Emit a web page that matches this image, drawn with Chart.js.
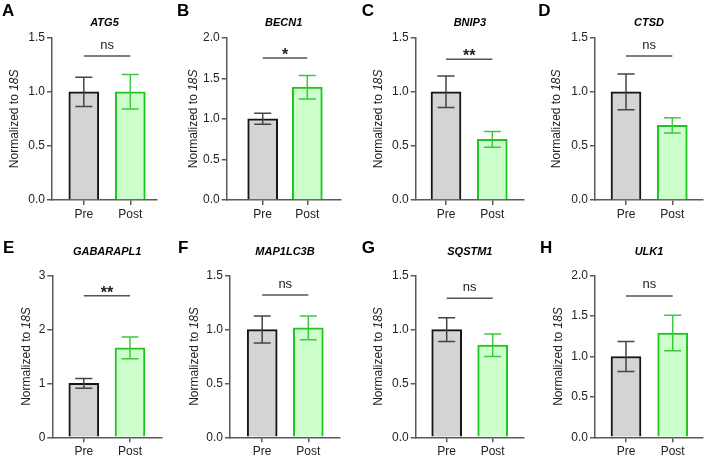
<!DOCTYPE html>
<html>
<head>
<meta charset="utf-8">
<script src="https://cdn.jsdelivr.net/npm/chart.js@4.4.1/dist/chart.umd.min.js"></script>
<style>
    html, body { margin: 0; padding: 0; background: #fff; overflow: hidden; }
    #fig { position: relative; width: 705px; height: 458px; }
    #fig canvas { position: absolute; }
</style>
</head>
<body>
<div id="fig"></div>
<script>
// Data
const categories = ['Pre', 'Post'];
const panelLetters = ['A', 'B', 'C', 'D', 'E', 'F', 'G', 'H'];
const genes = ['ATG5', 'BECN1', 'BNIP3', 'CTSD', 'GABARAPL1', 'MAP1LC3B', 'SQSTM1', 'ULK1'];
const preMean = [1.0, 1.0, 1.0, 1.0, 1.0, 1.0, 1.0, 1.0];
const preSem = [0.135, 0.068, 0.145, 0.165, 0.09, 0.125, 0.11, 0.185];
const postMean = [1.0, 1.39, 0.56, 0.69, 1.66, 1.015, 0.855, 1.29];
const postSem = [0.16, 0.145, 0.073, 0.07, 0.2, 0.11, 0.105, 0.22];
const yMax = [1.5, 2.0, 1.5, 1.5, 3, 1.5, 1.5, 2.0];
const yStep = [0.5, 0.5, 0.5, 0.5, 1, 0.5, 0.5, 0.5];
const sigLevel = [1.33, 1.75, 1.30, 1.33, 2.63, 1.32, 1.29, 1.75];
const sigLabel = ['ns', '*', '**', 'ns', '**', 'ns', 'ns', 'ns'];

// Layout (page pixels): plot area, bar centres, letter and axis title spots
const colLeft = [0, 175, 350, 525];
const colWidth = [175, 175, 175, 180];
const rowTop = [0, 229];
const CANVAS_H = 229;
const Y_AXIS_W = 32;
const X_AXIS_H = 18;
const panels = [
    { ax: 52,    aw: 105,   cx0: 83.8,  cx1: 130.3, top: 37.7,  bottom: 200,   letterX: 2,     yTitleOff: 37 },
    { ax: 226.7, aw: 114,   cx0: 262.7, cx1: 307.3, top: 37.7,  bottom: 200,   letterX: 177,   yTitleOff: 33 },
    { ax: 415.7, aw: 108.3, cx0: 446,   cx1: 492.3, top: 37.7,  bottom: 200,   letterX: 361.7, yTitleOff: 37.4 },
    { ax: 595,   aw: 108,   cx0: 626,   cx1: 672.3, top: 37.7,  bottom: 200,   letterX: 538.3, yTitleOff: 38.3 },
    { ax: 52.3,  aw: 109.7, cx0: 83.8,  cx1: 130,   top: 275.7, bottom: 437.3, letterX: 3,     yTitleOff: 25.6 },
    { ax: 230,   aw: 110,   cx0: 262.2, cx1: 308.3, top: 275.7, bottom: 437.3, letterX: 178,   yTitleOff: 35 },
    { ax: 415.7, aw: 108.3, cx0: 446.7, cx1: 492.7, top: 275.7, bottom: 437.3, letterX: 361.7, yTitleOff: 37.4 },
    { ax: 595,   aw: 108,   cx0: 626,   cx1: 672.7, top: 275.7, bottom: 437.3, letterX: 540,   yTitleOff: 36.7 }
];

const FONT = "Arial, 'Liberation Sans', Helvetica, sans-serif";
const axisColor = '#5a5a5a';
const preFill = '#d4d4d4', preBorder = '#151515', preErr = '#444444';
const postFill = '#ccffcc', postBorder = '#1fc41f', postErr = '#3dc93d';

Chart.defaults.font.family = FONT;
Chart.defaults.color = '#333';

// Error bars, significance bracket and panel texts
const annotate = {
    id: 'annotate',
    afterDatasetsDraw(chart, args, opts) {
        const { ctx, scales: { x, y }, chartArea } = chart;
        const i = opts.index;
        const row = i < 4 ? 0 : 1;
        const p = panels[i];
        const left = colLeft[i % 4];
        const top = rowTop[row];

        // error bars
        const means = [preMean[i], postMean[i]];
        const sems = [preSem[i], postSem[i]];
        const cols = [preErr, postErr];
        ctx.save();
        ctx.lineWidth = 1.5;
        for (let k = 0; k < 2; k++) {
            const cx = x.getPixelForValue(k);
            const yHi = y.getPixelForValue(means[k] + sems[k]);
            const yLo = y.getPixelForValue(means[k] - sems[k]);
            ctx.strokeStyle = cols[k];
            ctx.beginPath();
            ctx.moveTo(cx, yHi); ctx.lineTo(cx, yLo);
            ctx.moveTo(cx - 8.5, yHi); ctx.lineTo(cx + 8.5, yHi);
            ctx.moveTo(cx - 8.5, yLo); ctx.lineTo(cx + 8.5, yLo);
            ctx.stroke();
        }

        // significance line + label
        const sy = y.getPixelForValue(sigLevel[i]);
        const sx0 = x.getPixelForValue(0), sx1 = x.getPixelForValue(1);
        ctx.strokeStyle = '#555';
        ctx.beginPath();
        ctx.moveTo(sx0, sy); ctx.lineTo(sx1, sy);
        ctx.stroke();
        ctx.fillStyle = '#222';
        ctx.textAlign = 'center';
        ctx.textBaseline = 'alphabetic';
        if (sigLabel[i] === 'ns') {
            ctx.font = '13px ' + FONT;
            ctx.fillText('ns', (sx0 + sx1) / 2, sy - 7.5);
        } else {
            ctx.font = 'bold 16px ' + FONT;
            ctx.fillText(sigLabel[i], (sx0 + sx1) / 2, sy + 2);
        }

        // gene title
        const midX = (chartArea.left + chartArea.right) / 2;
        ctx.fillStyle = '#000';
        ctx.font = 'italic bold 11px ' + FONT;
        ctx.fillText(genes[i], midX, row === 0 ? 26 : 254.7 - top);

        // panel letter
        ctx.textAlign = 'left';
        ctx.font = 'bold 17px ' + FONT;
        ctx.fillText(panelLetters[i], p.letterX - left, row === 0 ? 15.5 : 253 - top);

        // y-axis title with italic 18S
        const tx = chartArea.left - p.yTitleOff;
        const ty = (chartArea.top + chartArea.bottom) / 2;
        const partA = 'Normalized to ';
        const partB = '18S';
        ctx.translate(tx, ty);
        ctx.rotate(-Math.PI / 2);
        ctx.textBaseline = 'middle';
        ctx.fillStyle = '#222';
        ctx.font = '12px ' + FONT;
        const wA = ctx.measureText(partA).width;
        ctx.font = 'italic 12px ' + FONT;
        const wB = ctx.measureText(partB).width;
        const start = -(wA + wB) / 2;
        ctx.font = '12px ' + FONT;
        ctx.fillText(partA, start, 0);
        ctx.font = 'italic 12px ' + FONT;
        ctx.fillText(partB, start + wA, 0);
        ctx.restore();
    }
};

const fig = document.getElementById('fig');

genes.forEach((gene, i) => {
    const row = i < 4 ? 0 : 1;
    const col = i % 4;
    const p = panels[i];
    const canvas = document.createElement('canvas');
    canvas.style.left = colLeft[col] + 'px';
    canvas.style.top = rowTop[row] + 'px';
    canvas.style.width = colWidth[col] + 'px';
    canvas.style.height = CANVAS_H + 'px';
    canvas.width = colWidth[col];
    canvas.height = CANVAS_H;
    fig.appendChild(canvas);

    const step = p.cx1 - p.cx0;
    const xMin = -(p.cx0 - p.ax) / step;
    const xMax = (p.ax + p.aw - p.cx0) / step;

    new Chart(canvas, {
        type: 'bar',
        data: {
            datasets: [{
                data: categories.map((c, k) => ({ x: k, y: k === 0 ? preMean[i] : postMean[i] })),
                backgroundColor: [preFill, postFill],
                borderColor: [preBorder, postBorder],
                borderWidth: 2,
                barThickness: 30
            }]
        },
        options: {
            responsive: false,
            animation: false,
            events: [],
            layout: {
                padding: {
                    left: p.ax - colLeft[col] - Y_AXIS_W,
                    right: colLeft[col] + colWidth[col] - (p.ax + p.aw),
                    top: p.top - rowTop[row],
                    bottom: CANVAS_H - X_AXIS_H - (p.bottom - rowTop[row])
                }
            },
            plugins: {
                legend: { display: false },
                tooltip: { enabled: false },
                annotate: { index: i }
            },
            scales: {
                x: {
                    type: 'linear',
                    offset: false,
                    min: xMin,
                    max: xMax,
                    afterBuildTicks: s => { s.ticks = categories.map((c, k) => ({ value: k })); },
                    afterFit: s => { s.height = X_AXIS_H; },
                    ticks: {
                        callback: v => categories[v] ?? '',
                        font: { size: 12 },
                        color: '#222',
                        padding: 2,
                        maxRotation: 0,
                        autoSkip: false
                    },
                    grid: { offset: false, drawOnChartArea: false, drawTicks: true, tickLength: 5, color: axisColor, lineWidth: 1.5 },
                    border: { display: true, color: axisColor, width: 1.5 }
                },
                y: {
                    min: 0,
                    max: yMax[i],
                    afterFit: s => { s.width = Y_AXIS_W; },
                    ticks: {
                        stepSize: yStep[i],
                        callback: v => yStep[i] < 1 ? v.toFixed(1) : String(v),
                        font: { size: 12 },
                        color: '#222',
                        padding: 2
                    },
                    grid: { drawOnChartArea: false, drawTicks: true, tickLength: 5, color: axisColor, lineWidth: 1.5 },
                    border: { display: true, color: axisColor, width: 1.5 }
                }
            }
        },
        plugins: [annotate]
    });
});
</script>
</body>
</html>
